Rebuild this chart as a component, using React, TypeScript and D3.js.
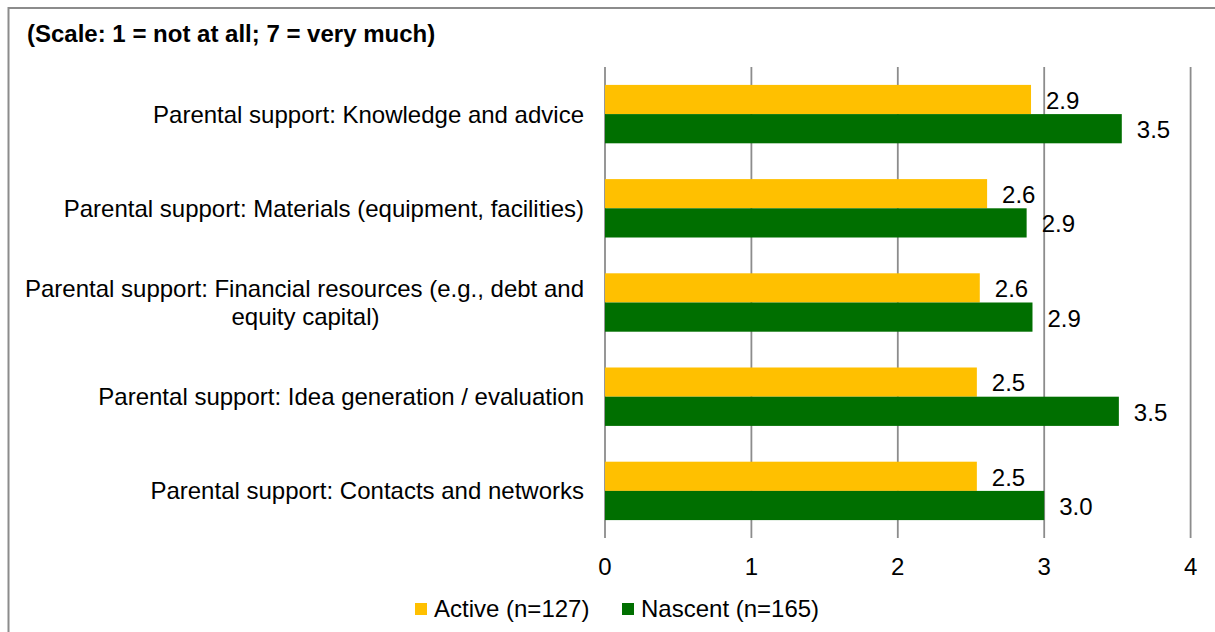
import React from "react";
import * as d3 from "d3";

const categories = [
  "Parental support: Knowledge and advice",
  "Parental support: Materials (equipment, facilities)",
  "Parental support: Financial resources (e.g., debt and|equity capital)",
  "Parental support: Idea generation / evaluation",
  "Parental support: Contacts and networks",
];
const seriesNames = ["Active (n=127)", "Nascent (n=165)"];
const activeValues = [2.91, 2.61, 2.56, 2.54, 2.54];
const nascentValues = [3.53, 2.88, 2.92, 3.51, 3.0];
const xTicks = [0, 1, 2, 3, 4];
const title = "(Scale: 1 = not at all; 7 = very much)";

const colors = ["#FFC000", "#006F00"];
const font = "'Liberation Sans', Arial, sans-serif";

export default function App() {
  const W = 1215;
  const H = 632;
  const x = d3.scaleLinear().domain([0, 4]).range([605, 1190.6]);
  const y = d3
    .scaleBand<string>()
    .domain(categories)
    .range([67, 538])
    .paddingInner(0.38)
    .paddingOuter(0.19);
  const sub = d3
    .scaleBand<string>()
    .domain(seriesNames)
    .range([0, y.bandwidth()]);
  const fmt = d3.format(".1f");
  const series = [activeValues, nascentValues];

  return (
    <svg
      width={W}
      height={H}
      style={{ position: "absolute", left: 0, top: 0, display: "block" }}
      fontFamily={font}
    >
      <rect x={0} y={0} width={W} height={H} fill="#fff" />
      <rect
        x={8.5}
        y={8}
        width={W + 20}
        height={H + 20}
        fill="none"
        stroke="#8c8c8c"
        strokeWidth={2}
      />
      <text x={27} y={34} dy="0.35em" fontSize={24} fontWeight="bold" fill="#000">
        {title}
      </text>
      {xTicks.map((t) => (
        <line
          key={"g" + t}
          x1={x(t)}
          x2={x(t)}
          y1={67}
          y2={538}
          stroke="#8c8c8c"
          strokeWidth={1.8}
        />
      ))}
      {categories.map((c, i) => (
        <g key={c}>
          {series.map((vals, s) => {
            const by = (y(c) as number) + (sub(seriesNames[s]) as number);
            const bh = sub.bandwidth();
            return (
              <g key={s}>
                <rect
                  x={x(0)}
                  y={by}
                  width={x(vals[i]) - x(0)}
                  height={bh}
                  fill={colors[s]}
                />
                <text
                  x={x(vals[i]) + 15}
                  y={by + bh / 2 + 1}
                  dy="0.35em"
                  fontSize={24}
                  fill="#000"
                >
                  {fmt(vals[i])}
                </text>
              </g>
            );
          })}
        </g>
      ))}
      {categories.map((c) => {
        const lines = c.split("|");
        const cy = (y(c) as number) + y.bandwidth() / 2;
        const lh = 27.6;
        if (lines.length === 1) {
          return (
            <text
              key={"l" + c}
              x={584}
              y={cy}
              dy="0.35em"
              fontSize={24}
              textAnchor="end"
              fill="#000"
            >
              {c}
            </text>
          );
        }
        return (
          <g key={"l" + c}>
            <text
              x={584}
              y={cy - lh / 2}
              dy="0.35em"
              fontSize={24}
              textAnchor="end"
              fill="#000"
            >
              {lines[0]}
            </text>
            <text
              x={305.5}
              y={cy + lh / 2}
              dy="0.35em"
              fontSize={24}
              textAnchor="middle"
              fill="#000"
            >
              {lines[1]}
            </text>
          </g>
        );
      })}
      {xTicks.map((t) => (
        <text
          key={"t" + t}
          x={x(t)}
          y={567}
          dy="0.35em"
          fontSize={24}
          textAnchor="middle"
          fill="#000"
        >
          {t}
        </text>
      ))}
      {seriesNames.map((n, s) => {
        const lx = s === 0 ? 415 : 622;
        return (
          <g key={n}>
            <rect x={lx} y={603} width={12} height={12} fill={colors[s]} />
            <text x={lx + 19} y={609} dy="0.35em" fontSize={24} fill="#000">
              {n}
            </text>
          </g>
        );
      })}
    </svg>
  );
}
